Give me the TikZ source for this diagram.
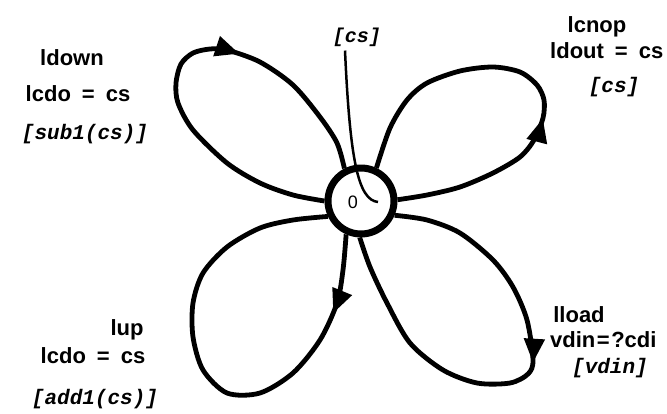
\documentclass[tikz,border=0pt]{standalone}
\usepackage{fontspec}
\setmainfont{Liberation Sans}
\newfontfamily\actfont{Liberation Mono}
\usetikzlibrary{positioning,arrows.meta,decorations.markings}

\begin{document}
\begin{tikzpicture}[x=1pt, y=-1pt,
    state/.style={circle, draw, line width=7pt, minimum size=66pt, inner sep=0pt},
    cond/.style={inner sep=0pt, font=\fontsize{22}{26}\selectfont\bfseries},
    act/.style={inner sep=0pt, font=\fontsize{21}{25}\selectfont\actfont\bfseries\itshape},
    petal/.style={line width=4.8pt, postaction={decorate},
        decoration={markings, mark=at position #1 with {\arrow{Triangle[length=24pt,width=20pt]}}}}]
    \useasboundingbox (0,0) rectangle (667,413);

    \node[state] (s0) at (361,201) {};
    \node[inner sep=0pt, font=\fontsize{18}{20}\selectfont] (zero) at (353,202) {0};

    % ldown
    \draw[petal=0.64] plot[smooth] coordinates {(s0.180) (293,195) (260,183) (227,163) (193,130) (178,103) (176,83) (181,64) (193,53) (210,49) (227,50) (260,62) (293,85) (320,117) (337,143) (s0.117)};
    % lcnop
    \draw[petal=0.41] plot[smooth] coordinates {(s0.2) (427,195) (460,187) (493,173) (520,157) (534,140) (543,118) (544,100) (537,85) (520,72) (493,67) (460,71) (427,83) (407,100) (390,128) (s0.65)};
    % lup
    \draw[petal=0.16] plot[smooth] coordinates {(s0.246) (343,270) (337,303) (320,340) (293,373) (260,393) (227,393) (203,370) (193,337) (193,303) (203,273) (227,247) (260,228) (293,220) (s0.205)};
    % lload
    \draw[petal=0.46] plot[smooth] coordinates {(s0.337) (427,220) (460,233) (493,260) (513,287) (527,320) (533,360) (528,374) (510,383) (477,383) (443,370) (410,343) (387,303) (370,267) (s0.268)};

    % initial action
    \node[act, font=\fontsize{20}{24}\selectfont\actfont\bfseries\itshape] (init) at (357,37) {[cs]};
    \coordinate (hook) at (378,202);
    \draw[line width=2.5pt] ([xshift=-12pt,yshift=-4pt]init.south) .. controls (350,160) and (358,200) .. (hook);

    \node[cond] (ldown) at (72,58) {ldown};
    \node[cond] (ldowng) at (78,94) {lcdo\enspace=\enspace cs};
    \node[act] (ldowna) at (85,134) {[sub1(cs)]};

    \node[cond] (lcnop) at (597,27) {lcnop};
    \node[cond, anchor=west] (lcnopg) at (550,51) {ldout\enspace=\enspace cs};
    \node[act] (lcnopa) at (614,87) {[cs]};

    \node[cond] (lup) at (127,330) {lup};
    \node[cond] (lupg) at (93,356) {lcdo\enspace=\enspace cs};
    \node[act] (lupa) at (95,399) {[add1(cs)]};

    \node[cond] (lload) at (579,315) {lload};
    \node[cond, anchor=west] (lloadg) at (550,340) {vdin\kern1.5pt=\kern1.5pt?cdi};
    \node[act] (lloada) at (610,368) {[vdin]};
\end{tikzpicture}
\end{document}
